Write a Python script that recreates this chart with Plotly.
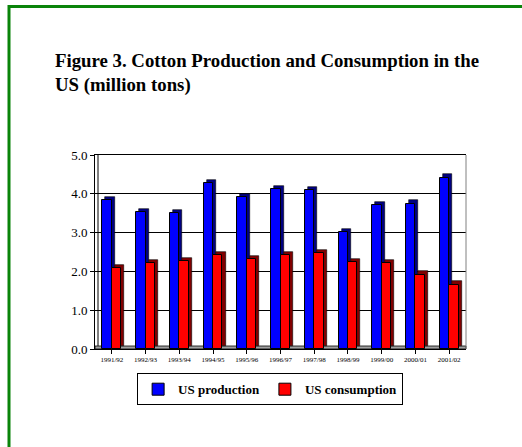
import plotly.graph_objects as go

seasons = ["1991/92", "1992/93", "1993/94", "1994/95", "1995/96", "1996/97",
           "1997/98", "1998/99", "1999/00", "2000/01", "2001/02"]
us_production = [3.83, 3.53, 3.50, 4.28, 3.91, 4.12, 4.09, 3.02, 3.70, 3.75, 4.42]
us_consumption = [2.08, 2.21, 2.26, 2.43, 2.31, 2.41, 2.47, 2.25, 2.21, 1.92, 1.66]
y_ticks = [0, 1, 2, 3, 4, 5]
y_tick_labels = ["0.0", "1.0", "2.0", "3.0", "4.0", "5.0"]

W, H = 522, 447
ML, MR, MT, MB = 95, 56, 155, 98
PW, PH = W - ML - MR, H - MT - MB

BW = 0.28     # bar width in category units
DX = 0.09     # 3D depth in x (category units)
DY = 0.08     # 3D depth in y (data units)

serif = "Liberation Serif, Times New Roman, serif"
x_idx = list(range(len(seasons)))

fig = go.Figure()
fig.add_trace(go.Bar(x=x_idx, y=us_production, base=DY, offset=-BW + DX, width=BW,
                     marker=dict(color="#000080", line=dict(color="black", width=0.6)),
                     showlegend=False, hoverinfo="skip"))
fig.add_trace(go.Bar(x=x_idx, y=us_production, offset=-BW, width=BW, name="US production",
                     marker=dict(color="#0000FF", line=dict(color="black", width=1))))
fig.add_trace(go.Bar(x=x_idx, y=us_consumption, base=DY, offset=DX, width=BW,
                     marker=dict(color="#800000", line=dict(color="black", width=0.6)),
                     showlegend=False, hoverinfo="skip"))
fig.add_trace(go.Bar(x=x_idx, y=us_consumption, offset=0, width=BW, name="US consumption",
                     marker=dict(color="#FF0000", line=dict(color="black", width=1))))

def px_x(px):
    return (px - ML) / PW

def px_y(py):
    return (H - MB - py) / PH

shapes = [
    dict(type="line", xref="paper", yref="paper", x0=px_x(9), x1=px_x(W + 5),
         y0=px_y(6.5), y1=px_y(6.5), line=dict(color="#0A840A", width=3)),
    dict(type="line", xref="paper", yref="paper", x0=px_x(9), x1=px_x(9),
         y0=px_y(5), y1=px_y(H + 5), line=dict(color="#0A840A", width=3)),
    dict(type="line", xref="paper", yref="paper", x0=px_x(ML + 3), x1=px_x(ML + 3),
         y0=px_y(H - MB - 3), y1=1, line=dict(color="black", width=1)),
    dict(type="rect", xref="paper", yref="paper", x0=0, x1=px_x(ML + PW),
         y0=0, y1=px_y(H - MB - 3), fillcolor="#A0A0A0", line=dict(color="black", width=0.8),
         layer="below"),
    dict(type="line", xref="paper", yref="paper", x0=1, x1=1, y0=0, y1=1,
         line=dict(color="#808080", width=1)),
]

fig.update_layout(
    width=W, height=H,
    margin=dict(l=ML, r=MR, t=MT, b=MB),
    paper_bgcolor="white", plot_bgcolor="white",
    barmode="overlay",
    title=dict(text="<b>Figure 3. Cotton Production and Consumption in the<br>US (million tons)</b>",
               font=dict(family=serif, size=18.8, color="black"),
               x=55 / W, xanchor="left", xref="container",
               y=1 - 67 / H, yanchor="top", yref="container"),
    xaxis=dict(tickmode="array", tickvals=x_idx, ticktext=seasons,
               range=[-0.5, len(seasons) - 0.5],
               tickfont=dict(family=serif, size=7, color="black"),
               showline=True, linecolor="black", linewidth=1, mirror=True,
               ticks="outside", ticklen=4, tickcolor="black", tickson="boundaries",
               showgrid=False, zeroline=False),
    yaxis=dict(range=[0, 5], tickmode="array", tickvals=y_ticks, ticktext=y_tick_labels,
               tickfont=dict(family=serif, size=13, color="black"),
               showline=True, linecolor="black", linewidth=1,
               ticks="outside", ticklen=4, tickcolor="black",
               showgrid=True, gridcolor="black", gridwidth=1, zeroline=False),
    legend=dict(orientation="h", x=0.472, xanchor="center", y=-0.125, yanchor="top",
                bordercolor="black", borderwidth=1, bgcolor="white",
                font=dict(family=serif, size=13, color="black", weight="bold"),
                itemwidth=30, tracegroupgap=0, traceorder="normal"),
    shapes=shapes,
    bargap=0,
)

fig.write_html("out.html")
